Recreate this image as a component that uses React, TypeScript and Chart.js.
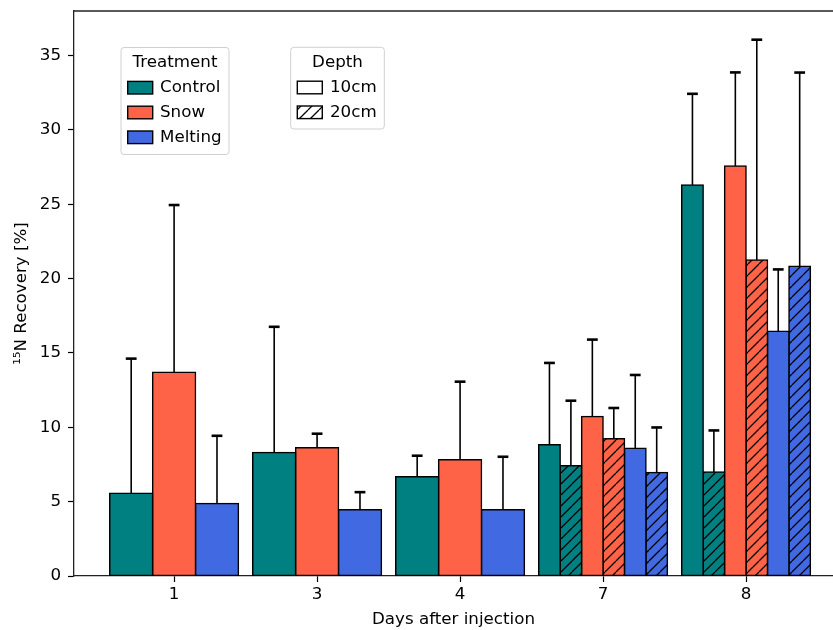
import React, { useEffect, useRef } from 'react';
import { Chart, registerables } from 'chart.js';

Chart.register(...registerables);

// ---- data ----
const DAYS = ['1', '3', '4', '7', '8'];
const Y_TICKS = [0, 5, 10, 15, 20, 25, 30, 35];
const TREATMENTS = ['Control', 'Snow', 'Melting'];
const DEPTHS = ['10cm', '20cm'];

const CONTROL_10 = [5.57, 8.31, 6.67, 8.83, 26.3];
const CONTROL_10_ERR = [9.05, 8.45, 1.42, 5.5, 6.13];
const CONTROL_20 = [null, null, null, 7.41, 6.99];
const CONTROL_20_ERR = [null, null, null, 4.38, 2.8];
const SNOW_10 = [13.7, 8.63, 7.82, 10.73, 27.58];
const SNOW_10_ERR = [11.25, 0.94, 5.25, 5.17, 6.29];
const SNOW_20 = [null, null, null, 9.23, 21.25];
const SNOW_20_ERR = [null, null, null, 2.07, 14.82];
const MELTING_10 = [4.87, 4.45, 4.45, 8.6, 16.46];
const MELTING_10_ERR = [4.56, 1.19, 3.57, 4.92, 4.16];
const MELTING_20 = [null, null, null, 6.96, 20.84];
const MELTING_20_ERR = [null, null, null, 3.03, 13.02];

// ---- styles ----
const COLORS = ['#008080', '#FF6347', '#4169E1'];
const FONT = { family: 'DejaVu Sans', size: 16.7 };
const SPINE = '#222';
const HATCH_SPACING = 11;

function makeHatch(ctx: CanvasRenderingContext2D, color: string) {
  const s = HATCH_SPACING;
  const c = document.createElement('canvas');
  c.width = s;
  c.height = s;
  const g = c.getContext('2d')!;
  g.fillStyle = color;
  g.fillRect(0, 0, s, s);
  g.strokeStyle = '#000';
  g.lineWidth = 1.3;
  g.beginPath();
  for (const o of [-s, 0, s]) {
    g.moveTo(o, s);
    g.lineTo(o + s, 0);
  }
  g.stroke();
  return ctx.createPattern(c, 'repeat')!;
}

const toPoints = (arr: (number | null)[]) => arr.map((v, i) => ({ x: i, y: v }));

const errorBarPlugin = {
  id: 'errorBars',
  afterDatasetsDraw(chart: any) {
    const { ctx } = chart;
    const yScale = chart.scales.y;
    chart.data.datasets.forEach((ds: any, i: number) => {
      const meta = chart.getDatasetMeta(i);
      meta.data.forEach((bar: any, j: number) => {
        const v = ds.data[j].y;
        const e = ds.errors[j];
        if (v == null || e == null) return;
        const x = bar.x;
        const y0 = bar.y;
        const y1 = yScale.getPixelForValue(v + e);
        ctx.save();
        ctx.strokeStyle = '#000';
        ctx.lineWidth = 1.6;
        ctx.beginPath();
        ctx.moveTo(x, y0);
        ctx.lineTo(x, y1);
        ctx.stroke();
        ctx.lineWidth = 2.6;
        ctx.beginPath();
        ctx.moveTo(x - 5.4, y1);
        ctx.lineTo(x + 5.4, y1);
        ctx.stroke();
        ctx.restore();
      });
    });
  },
};

// top spine only; the right spine lies beyond the cropped figure edge
const framePlugin = {
  id: 'frame',
  afterDraw(chart: any) {
    const { ctx, chartArea } = chart;
    ctx.save();
    ctx.strokeStyle = SPINE;
    ctx.lineWidth = 1.3;
    ctx.beginPath();
    ctx.moveTo(chartArea.left, chartArea.top);
    ctx.lineTo(chart.width, chartArea.top);
    ctx.stroke();
    ctx.restore();
  },
};

function roundRect(ctx: CanvasRenderingContext2D, x: number, y: number, w: number, h: number, r: number) {
  ctx.beginPath();
  ctx.moveTo(x + r, y);
  ctx.lineTo(x + w - r, y);
  ctx.quadraticCurveTo(x + w, y, x + w, y + r);
  ctx.lineTo(x + w, y + h - r);
  ctx.quadraticCurveTo(x + w, y + h, x + w - r, y + h);
  ctx.lineTo(x + r, y + h);
  ctx.quadraticCurveTo(x, y + h, x, y + h - r);
  ctx.lineTo(x, y + r);
  ctx.quadraticCurveTo(x, y, x + r, y);
  ctx.closePath();
}

const legendsPlugin = {
  id: 'twoLegends',
  afterDraw(chart: any) {
    const ctx: CanvasRenderingContext2D = chart.ctx;
    const font = `${FONT.size}px "${FONT.family}"`;
    const drawBox = (x: number, y: number, w: number, h: number) => {
      ctx.save();
      roundRect(ctx, x, y, w, h, 3);
      ctx.fillStyle = 'rgba(255,255,255,0.8)';
      ctx.fill();
      ctx.strokeStyle = '#d0d0d0';
      ctx.lineWidth = 1;
      ctx.stroke();
      ctx.restore();
    };
    const text = (t: string, x: number, y: number, align: CanvasTextAlign) => {
      ctx.save();
      ctx.font = font;
      ctx.fillStyle = '#000';
      ctx.textAlign = align;
      ctx.textBaseline = 'middle';
      ctx.fillText(t, x, y);
      ctx.restore();
    };
    const patch = (x: number, yc: number, fill: any) => {
      ctx.save();
      ctx.fillStyle = fill;
      ctx.fillRect(x, yc - 6.3, 25, 12.6);
      ctx.strokeStyle = '#000';
      ctx.lineWidth = 1.4;
      ctx.strokeRect(x, yc - 6.3, 25, 12.6);
      ctx.restore();
    };

    // Treatment legend
    drawBox(121, 47.5, 108, 107);
    text('Treatment', 175, 62.5, 'center');
    const rows1 = [87.7, 112.5, 137.3];
    TREATMENTS.forEach((t, i) => {
      patch(127.7, rows1[i], COLORS[i]);
      text(t, 160, rows1[i], 'left');
    });

    // Depth legend
    drawBox(290.7, 47.3, 93.6, 81.7);
    text('Depth', 337.5, 62.5, 'center');
    const rows2 = [87.5, 112.3];
    patch(297.3, rows2[0], '#fff');
    text(DEPTHS[0], 330, rows2[0], 'left');
    patch(297.3, rows2[1], makeHatch(ctx, '#fff'));
    text(DEPTHS[1], 330, rows2[1], 'left');
  },
};

export default function App() {
  const ref = useRef<HTMLCanvasElement | null>(null);

  useEffect(() => {
    const canvas = ref.current!;
    const ctx = canvas.getContext('2d')!;

    const series = [
      { label: 'Control 10cm', data: CONTROL_10, err: CONTROL_10_ERR, color: COLORS[0], hatch: false },
      { label: 'Control 20cm', data: CONTROL_20, err: CONTROL_20_ERR, color: COLORS[0], hatch: true },
      { label: 'Snow 10cm', data: SNOW_10, err: SNOW_10_ERR, color: COLORS[1], hatch: false },
      { label: 'Snow 20cm', data: SNOW_20, err: SNOW_20_ERR, color: COLORS[1], hatch: true },
      { label: 'Melting 10cm', data: MELTING_10, err: MELTING_10_ERR, color: COLORS[2], hatch: false },
      { label: 'Melting 20cm', data: MELTING_20, err: MELTING_20_ERR, color: COLORS[2], hatch: true },
    ];

    const tickCfg = {
      drawOnChartArea: false,
      drawTicks: true,
      tickLength: 6,
      tickColor: '#000',
      tickWidth: 1.2,
      offset: false,
      color: '#000',
    };

    const chart = new Chart(ctx, {
      type: 'bar',
      data: {
        datasets: series.map((s) => ({
          label: s.label,
          data: toPoints(s.data),
          errors: s.err,
          backgroundColor: s.hatch ? makeHatch(ctx, s.color) : s.color,
          borderColor: '#000',
          borderWidth: 1.5,
          inflateAmount: 0.75,
          borderSkipped: false,
          skipNull: true,
          categoryPercentage: 0.9,
          barPercentage: 1.0,
        })) as any,
      },
      options: {
        animation: false,
        responsive: false,
        maintainAspectRatio: false,
        devicePixelRatio: 1,
        layout: { padding: { left: 0, top: 11, right: 0, bottom: 0 } },
        plugins: {
          legend: { display: false },
          tooltip: { enabled: false },
        },
        scales: {
          x: {
            type: 'linear',
            min: -0.7,
            max: 4.608,
            offset: false,
            afterBuildTicks: (s: any) => {
              s.ticks = DAYS.map((_, i) => ({ value: i }));
            },
            afterFit: (s: any) => {
              s.height = 54;
              s.paddingLeft = 0;
              s.paddingRight = 0;
            },
            ticks: {
              autoSkip: false,
              maxRotation: 0,
              padding: 3,
              color: '#000',
              font: FONT,
              callback: (v: any) => DAYS[Math.round(Number(v))],
            },
            grid: tickCfg,
            border: { display: true, color: SPINE, width: 1.3 },
            title: {
              display: true,
              text: 'Days after injection',
              color: '#000',
              font: FONT,
              padding: { top: 0, bottom: 0 },
            },
          },
          y: {
            type: 'linear',
            min: 0,
            max: 38,
            afterBuildTicks: (s: any) => {
              s.ticks = Y_TICKS.map((v) => ({ value: v }));
            },
            afterFit: (s: any) => {
              s.width = 74;
              s.paddingTop = 0;
              s.paddingBottom = 0;
            },
            ticks: { padding: 7, color: '#000', font: FONT },
            grid: tickCfg,
            border: { display: true, color: SPINE, width: 1.3 },
            title: {
              display: true,
              text: '¹⁵N Recovery [%]',
              color: '#000',
              font: FONT,
              padding: { top: 12, bottom: 0 },
            },
          },
        } as any,
      },
      plugins: [errorBarPlugin, framePlugin, legendsPlugin],
    });

    return () => chart.destroy();
  }, []);

  return (
    <div style={{ position: 'fixed', left: 0, top: 0, width: 833, height: 630, overflow: 'hidden', background: '#fff' }}>
      <canvas ref={ref} width={833} height={630} style={{ display: 'block', width: 833, height: 630 }} />
    </div>
  );
}
